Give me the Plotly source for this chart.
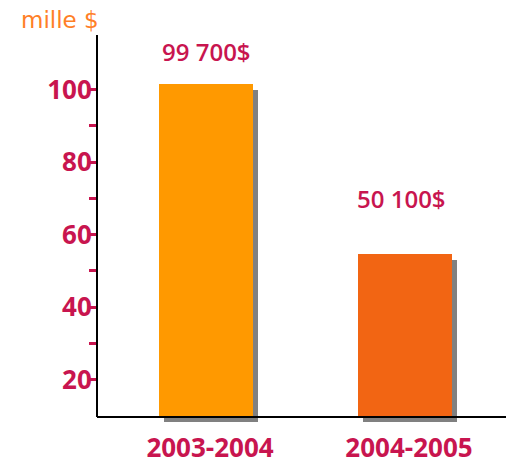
import plotly.graph_objects as go

categories = ["2003-2004", "2004-2005"]
values = [101.4, 54.7]
value_labels = ["99 700$", "50 100$"]
bar_colors = ["#FF9900", "#F26513"]
y_ticks = [20, 40, 60, 80, 100]

CRIMSON = "#C8154F"
FONT = "Open Sans"

x_idx = [0, 1]
bar_w = 0.472
base_val = 10.1
y_min, y_max = 8.4, 115
shadow_dx = 0.025
shadow_dy = 1.65

fig = go.Figure()
# shadows
fig.add_trace(go.Bar(
    x=x_idx, y=[v - shadow_dy - y_min for v in values], base=y_min,
    width=bar_w, offset=-bar_w / 2 + shadow_dx,
    marker=dict(color="#808080", line=dict(width=0)),
    hoverinfo="skip", showlegend=False,
))
# main bars
fig.add_trace(go.Bar(
    x=x_idx, y=[v - base_val for v in values], base=base_val,
    width=bar_w, offset=-bar_w / 2,
    marker=dict(color=bar_colors, line=dict(width=0)),
    showlegend=False,
))

annotations = []
shifts = [(0, 33), (-3, 55)]
for i, (v, lab) in enumerate(zip(values, value_labels)):
    annotations.append(dict(
        x=x_idx[i], y=v, xref="x", yref="y", text=lab, showarrow=False,
        xshift=shifts[i][0], yshift=shifts[i][1], yanchor="middle",
        font=dict(family=FONT, size=24, color=CRIMSON, weight=600),
    ))
annotations.append(dict(
    x=0, y=1, xref="paper", yref="paper", text="mille $", showarrow=False,
    xanchor="right", yanchor="bottom", xshift=4, yshift=0,
    font=dict(family="DejaVu Sans", size=23, color="#FF7F27"),
))

shapes = [
    dict(type="line", xref="paper", yref="y", x0=0, x1=1, y0=9.8, y1=9.8,
         line=dict(color="black", width=2)),
    dict(type="line", xref="paper", yref="y", x0=0, x1=0, y0=9.8, y1=y_max,
         line=dict(color="black", width=2)),
]

fig.update_layout(
    width=506, height=459,
    margin=dict(l=89, r=0, t=27, b=45),
    paper_bgcolor="white", plot_bgcolor="white",
    barmode="overlay", bargap=0,
    annotations=annotations, shapes=shapes,
    xaxis=dict(
        range=[-0.548, 1.548], tickmode="array", tickvals=x_idx, ticktext=categories,
        showgrid=False, zeroline=False, showline=False, ticks="",
        tickfont=dict(family=FONT, size=26, color=CRIMSON, weight="bold"),
        ticklabelstandoff=8, ticklabelshift=4,
        automargin=False, fixedrange=True,
    ),
    yaxis=dict(
        range=[y_min, y_max], tickmode="array", tickvals=y_ticks,
        showgrid=False, zeroline=False, showline=False,
        ticks="outside", ticklen=7, tickwidth=3, tickcolor=CRIMSON,
        minor=dict(tickvals=[30, 50, 70, 90], ticks="outside", ticklen=7,
                   tickwidth=3, tickcolor=CRIMSON, showgrid=False),
        tickfont=dict(family=FONT, size=26, color=CRIMSON, weight="bold"),
        ticklabelstandoff=-8,
        automargin=False, fixedrange=True,
    ),
)

fig.write_html("out.html")
